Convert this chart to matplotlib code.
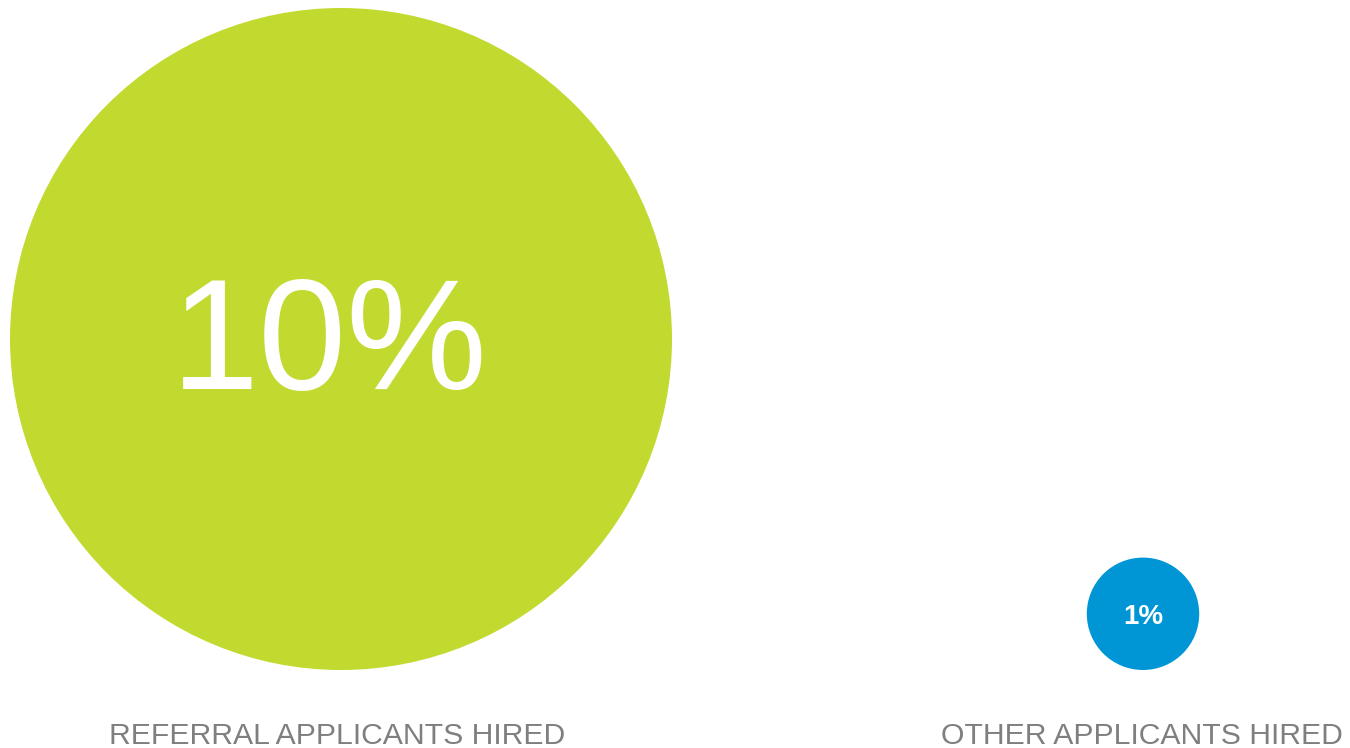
import matplotlib
matplotlib.use("Agg")
import matplotlib.pyplot as plt
from matplotlib.patches import Circle

# Hire rates by applicant source
categories = ["REFERRAL APPLICANTS HIRED", "OTHER APPLICANTS HIRED"]
values = [10, 1]
value_labels = ["10%", "1%"]
colors = ["#C2DA2F", "#0096D6"]

W, H = 1350, 748
fig = plt.figure(figsize=(W / 100, H / 100), dpi=100)
ax = fig.add_axes([0, 0, 1, 1])
ax.set_xlim(0, W)
ax.set_ylim(H, 0)
ax.set_aspect("equal")
ax.axis("off")

# Bubble layout: common baseline, radius scaled from the value
centers_x = [341, 1143]
baseline_y = 670
r_max = 331
exponent = 0.77
vmax = max(values)

# Text styling for the value inside each bubble
value_sizes = [114, 20]
value_weights = ["normal", "bold"]
value_dx = [-12, 0]
value_dy = [50, 10]
label_dx = [-4, -1.5]

for cx, v, lab, cat, col, fs, fw, vdx, vdy, ldx in zip(
        centers_x, values, value_labels, categories, colors,
        value_sizes, value_weights, value_dx, value_dy, label_dx):
    r = r_max * (v / vmax) ** exponent
    cy = baseline_y - r
    ax.add_patch(Circle((cx, cy), r, facecolor=col, edgecolor="none"))
    ax.text(cx + vdx, cy + vdy, lab, ha="center", va="baseline", color="white",
            fontsize=fs, fontweight=fw, family="Liberation Sans")
    ax.text(cx + ldx, 744, cat, ha="center", va="baseline", color="#7F7F7F",
            fontsize=21.7, family="Liberation Sans")

fig.savefig("out.png", dpi=100)
